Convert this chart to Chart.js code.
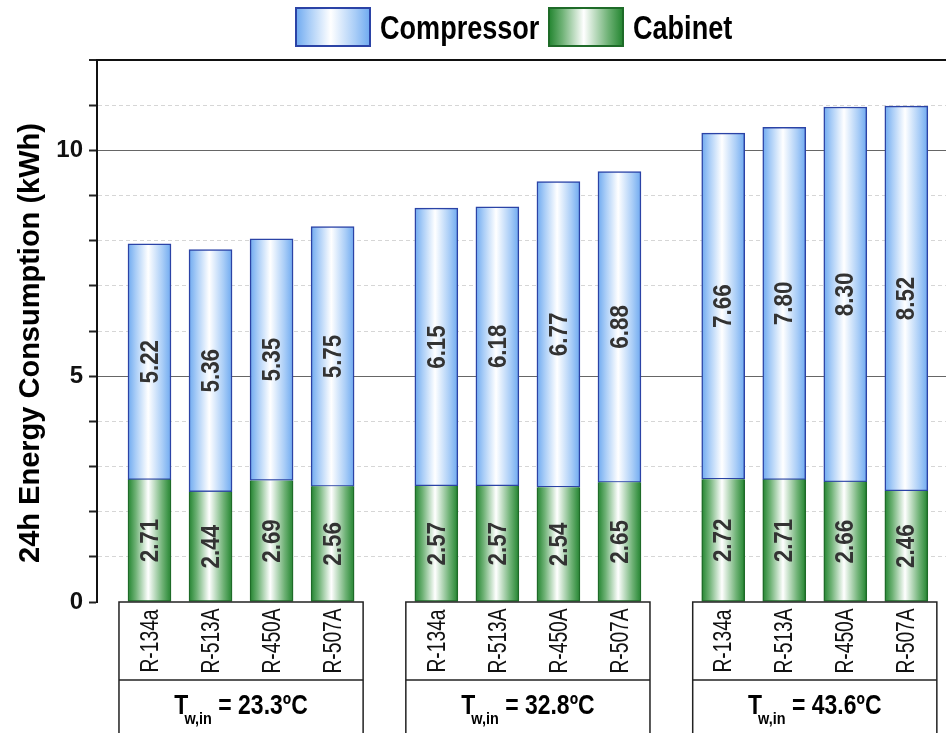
<!DOCTYPE html>
<html>
<head>
<meta charset="utf-8">
<title>24h Energy Consumption</title>
<script src="https://cdn.jsdelivr.net/npm/chart.js@4.4.0/dist/chart.umd.min.js"></script>
<style>
  html, body { margin: 0; padding: 0; background: #fff; }
  #grafico { display: block; }
</style>
</head>
<body>
<canvas id="grafico" width="946" height="733"></canvas>
<script>
// Dados
var refrigerantes = ['R-134a', 'R-513A', 'R-450A', 'R-507A'];
var temperaturas = ['23.3ºC', '32.8ºC', '43.6ºC'];
var cabinet = [2.71, 2.44, 2.69, 2.56, 2.57, 2.57, 2.54, 2.65, 2.72, 2.71, 2.66, 2.46];
var compressor = [5.22, 5.36, 5.35, 5.75, 6.15, 6.18, 6.77, 6.88, 7.66, 7.80, 8.30, 8.52];
var ticksY = [0, 5, 10];

var FONTE = "'Liberation Sans', Arial, sans-serif";
var ESTREITO = 0.82; // compressão horizontal para imitar Arial Narrow
var PASSO_GRUPO = 4.7;
var LARGURA_BARRA = 43;

// Posição no eixo x: grupo de temperatura + índice do refrigerante
function posicaoX(i) {
    var grupo = Math.floor(i / refrigerantes.length);
    return grupo * PASSO_GRUPO + (i % refrigerantes.length);
}

function montarPontos(valores) {
    return valores.map(function(v, i) {
        return { x: posicaoX(i), y: v };
    });
}

// Gradiente horizontal de cada barra (borda colorida, centro branco)
function gradienteBarra(ctx, x, largura, corBorda, corMeio) {
    var g = ctx.createLinearGradient(x - largura / 2, 0, x + largura / 2, 0);
    g.addColorStop(0, corBorda);
    g.addColorStop(0.18, corMeio);
    g.addColorStop(0.47, '#ffffff');
    g.addColorStop(0.8, corMeio);
    g.addColorStop(1, corBorda);
    return g;
}

function corScriptavel(corBorda, corMeio) {
    return function(c) {
        var chart = c.chart;
        if (c.type !== 'data' || !chart.chartArea) return corBorda;
        var x = chart.scales.x.getPixelForValue(c.raw.x);
        return gradienteBarra(chart.ctx, x, LARGURA_BARRA, corBorda, corMeio);
    };
}

// Texto comprimido (opcionalmente girado)
function textoEstreito(ctx, texto, x, y, escala, girar) {
    ctx.save();
    ctx.translate(x, y);
    if (girar) ctx.rotate(-Math.PI / 2);
    ctx.scale(escala, 1);
    ctx.fillText(texto, 0, 0);
    ctx.restore();
}

var desenhosExtras = {
    id: 'desenhosExtras',
    afterDatasetsDraw: function(chart) {
        var ctx = chart.ctx;
        ctx.save();
        ctx.fillStyle = '#333';
        ctx.font = 'bold 26px ' + FONTE;
        ctx.textAlign = 'center';
        ctx.textBaseline = 'middle';
        chart.data.datasets.forEach(function(ds, d) {
            var meta = chart.getDatasetMeta(d);
            meta.data.forEach(function(el, i) {
                var cy = (el.y + el.base) / 2;
                textoEstreito(ctx, ds.data[i].y.toFixed(2), el.x + 1, cy, 0.86, true);
            });
        });
        ctx.restore();
    },
    afterDraw: function(chart) {
        var ctx = chart.ctx;
        var area = chart.chartArea;
        var sx = chart.scales.x;
        ctx.save();

        // Legenda
        var itens = [
            { nome: 'Compressor', caixa: 296, borda: '#2b43a6', cor: '#6faaf0', meio: '#a9cdf7' },
            { nome: 'Cabinet', caixa: 549, borda: '#1e6b28', cor: '#238530', meio: '#6fb276' }
        ];
        itens.forEach(function(it) {
            var g = gradienteBarra(ctx, it.caixa + 37, 74, it.cor, it.meio);
            ctx.fillStyle = g;
            ctx.fillRect(it.caixa, 8, 74, 38);
            ctx.strokeStyle = it.borda;
            ctx.lineWidth = 2;
            ctx.strokeRect(it.caixa, 8, 74, 38);
            ctx.fillStyle = '#000';
            ctx.font = 'bold 33px ' + FONTE;
            ctx.textAlign = 'left';
            ctx.textBaseline = 'alphabetic';
            textoEstreito(ctx, it.nome, it.caixa + 84, 39, ESTREITO, false);
        });

        // Título do eixo y
        ctx.fillStyle = '#000';
        ctx.font = 'bold 29px ' + FONTE;
        ctx.textAlign = 'center';
        ctx.textBaseline = 'middle';
        textoEstreito(ctx, '24h Energy Consumption (kWh)', 31, 343, 1, true);

        // Caixas das categorias abaixo do eixo
        var meio = (sx.getPixelForValue(1) - sx.getPixelForValue(0)) / 2;
        var topo = area.bottom;
        var divisoria = 680;
        var fundo = chart.height + 5;
        temperaturas.forEach(function(temp, g) {
            var n = refrigerantes.length;
            var x1 = sx.getPixelForValue(posicaoX(g * n)) - meio;
            var x2 = sx.getPixelForValue(posicaoX(g * n + n - 1)) + meio;
            ctx.strokeStyle = '#222';
            ctx.lineWidth = 1.5;
            ctx.strokeRect(x1, topo, x2 - x1, fundo - topo);
            ctx.beginPath();
            ctx.moveTo(x1, divisoria);
            ctx.lineTo(x2, divisoria);
            ctx.stroke();

            // Nomes dos refrigerantes, girados
            ctx.fillStyle = '#111';
            ctx.font = '26px ' + FONTE;
            ctx.textAlign = 'center';
            ctx.textBaseline = 'middle';
            refrigerantes.forEach(function(r, k) {
                var xb = sx.getPixelForValue(posicaoX(g * n + k));
                textoEstreito(ctx, r, xb + 1, (topo + divisoria) / 2, 0.74, true);
            });

            // Rótulo T_w,in = temperatura
            var fPrinc = 'bold 27px ' + FONTE;
            var fSub = 'bold 17px ' + FONTE;
            var esc = 0.85;
            ctx.font = fPrinc;
            var wT = ctx.measureText('T').width * esc;
            var wResto = ctx.measureText(' = ' + temp).width * esc;
            ctx.font = fSub;
            var wSub = ctx.measureText('w,in').width * esc;
            var total = wT + wSub + wResto - 4;
            var xi = (x1 + x2) / 2 - total / 2;
            var base = 714;
            ctx.textAlign = 'left';
            ctx.textBaseline = 'alphabetic';
            ctx.fillStyle = '#000';
            ctx.font = fPrinc;
            textoEstreito(ctx, 'T', xi, base, esc, false);
            ctx.font = fSub;
            textoEstreito(ctx, 'w,in', xi + wT - 4, base + 10, esc, false);
            ctx.font = fPrinc;
            textoEstreito(ctx, ' = ' + temp, xi + wT - 4 + wSub, base, esc, false);
        });
        ctx.restore();
    }
};

var ctxGrafico = document.getElementById('grafico').getContext('2d');

var grafico = new Chart(ctxGrafico, {
    type: 'bar',
    data: {
        datasets: [{
            label: 'Cabinet',
            data: montarPontos(cabinet),
            backgroundColor: corScriptavel('#238530', '#6fb276'),
            borderColor: '#1e6b28',
            borderWidth: 1.5,
            borderSkipped: 'end',
            barThickness: LARGURA_BARRA
        }, {
            label: 'Compressor',
            data: montarPontos(compressor),
            backgroundColor: corScriptavel('#6faaf0', '#a9cdf7'),
            borderColor: '#2b43a6',
            borderWidth: 1.5,
            borderSkipped: false,
            barThickness: LARGURA_BARRA
        }]
    },
    options: {
        responsive: false,
        animation: false,
        events: [],
        layout: { padding: { top: 60, bottom: 131, left: 0, right: 0 } },
        plugins: {
            legend: { display: false },
            tooltip: { enabled: false }
        },
        scales: {
            x: {
                type: 'linear',
                display: false,
                stacked: true,
                offset: false,
                min: -0.86,
                max: 13.05
            },
            y: {
                stacked: true,
                min: 0,
                max: 12,
                afterFit: function(s) { s.width = 97; },
                ticks: {
                    stepSize: 1,
                    autoSkip: false,
                    padding: 6,
                    color: '#111',
                    font: { family: FONTE, size: 24, weight: 'bold' },
                    callback: function(v) {
                        return ticksY.indexOf(v) >= 0 ? String(v) : '';
                    }
                },
                grid: {
                    color: function(c) {
                        var v = c.tick ? c.tick.value : null;
                        if (v === 0) return 'rgba(0,0,0,0)';
                        if (v === 12) return '#111';
                        if (ticksY.indexOf(v) >= 0) return '#666';
                        return '#d6d6d6';
                    },
                    lineWidth: function(c) {
                        return c.tick && c.tick.value === 12 ? 2 : 1;
                    },
                    tickLength: 8,
                    tickColor: '#222',
                    tickWidth: 2
                },
                border: {
                    color: '#111',
                    width: 2,
                    dash: function(c) {
                        var v = c.tick ? c.tick.value : null;
                        if (v === null || v === 12 || ticksY.indexOf(v) >= 0) return [];
                        return [4, 3];
                    }
                }
            }
        }
    },
    plugins: [desenhosExtras]
});
</script>
</body>
</html>
